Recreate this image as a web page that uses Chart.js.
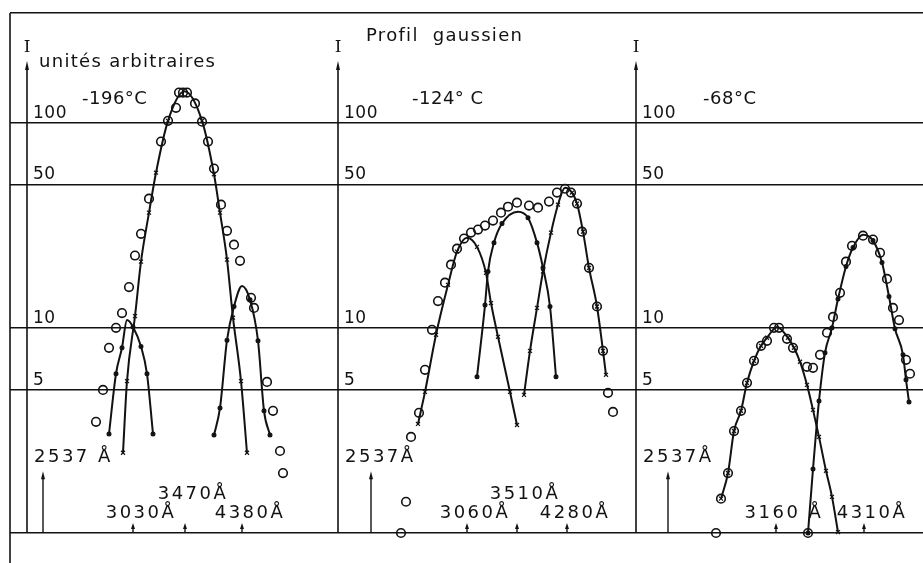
<!DOCTYPE html>
<html lang="fr">
<head>
<meta charset="utf-8">
<title>Profil gaussien</title>
<script src="https://cdn.jsdelivr.net/npm/chart.js@4/dist/chart.umd.min.js"></script>
<style>
  html, body { margin: 0; padding: 0; background: #fff; }
  #wrap { width: 923px; height: 563px; }
</style>
</head>
<body>
<div id="wrap"><canvas id="profil" width="923" height="563"></canvas></div>
<script>
/* Profil gaussien : trois spectres (I en unités arbitraires, échelle log)
   L'axe horizontal n'a pas de graduation : positions en unités arbitraires. */

// --- axes ---
const gridValues = [1, 5, 10, 50, 100];
const tickLabels = [100, 50, 10, 5];
const yMax = 342;
const panelAxisX = [27, 338, 636];
const panelTemps = ['-196°C', '-124° C', '-68°C'];

// --- -196°C : points mesurés (cercles) ---
const obs196X = [96, 103, 109, 116, 122, 129, 135, 141, 149, 161, 168, 176, 179, 183, 187, 195, 202, 208, 214, 221, 227, 234, 240, 251, 254, 267, 273, 280, 283];
const obs196I = [3.48, 4.98, 7.99, 10.0, 11.8, 15.8, 22.5, 28.7, 42.6, 80.8, 102, 118, 140, 140, 140, 124, 101, 80.8, 59.7, 39.8, 29.7, 25.4, 21.2, 14.0, 12.5, 5.45, 3.94, 2.51, 1.96];
// composantes gaussiennes
const g3030X = [109, 116, 122, 127, 133, 141, 147, 153];
const g3030I = [3.04, 5.97, 8.0, 10.9, 10.1, 8.1, 5.97, 3.04];
const g3470X = [123, 127, 135, 141, 149, 156, 168, 184.5, 202, 214, 220, 227, 233, 241, 247];
const g3470I = [2.46, 5.5, 11.4, 21, 36.4, 57, 102, 142, 102, 56, 36.4, 21.5, 11.2, 5.5, 2.46];
const g4380X = [214, 220, 227, 234, 242, 250, 258, 264, 270];
const g4380I = [3.0, 4.07, 8.7, 12.7, 16.0, 13.7, 8.65, 3.94, 3.0];

// --- -124°C ---
const obs124X = [401, 406, 411, 419, 425, 432, 438, 445, 451, 457, 464, 471, 478, 485, 493, 501, 508, 517, 529, 538, 549, 557, 565, 571, 577, 582, 589, 597, 603, 608, 613];
const obs124I = [1.0, 1.42, 2.94, 3.85, 6.24, 9.78, 13.5, 16.6, 20.3, 24.3, 27.2, 29.1, 30.1, 31.5, 33.3, 36.4, 38.9, 40.7, 39.4, 38.5, 41.2, 45.6, 47.6, 45.6, 40.3, 29.4, 19.6, 12.7, 7.72, 4.82, 3.89];
const g3060X = [418, 425, 436, 448, 457, 467, 477, 486, 491, 498, 510, 517];
const g3060I = [3.40, 4.87, 9.25, 16.2, 23.5, 27.5, 24.8, 18.5, 13.2, 9.04, 4.87, 3.36];
const g3510X = [477, 485, 488, 494, 502, 518, 528, 537, 543, 550, 556];
const g3510I = [5.77, 12.9, 18.8, 26.0, 32.2, 36.8, 34.4, 26.0, 19.6, 12.7, 5.77];
const g4280X = [524, 530, 537, 543, 551, 558, 565, 572, 577, 583, 589, 597, 603, 606];
const g4280I = [4.71, 7.72, 12.5, 18.8, 29.1, 39.8, 48.2, 45.6, 40.3, 29.4, 19.6, 12.7, 7.72, 5.90];

// --- -68°C ---
const obs68X = [716, 721, 728, 734, 741, 747, 754, 761, 767, 774, 779, 787, 793, 807, 813, 808, 820, 827, 833, 840, 846, 852, 863, 873, 880, 887, 893, 899, 906, 910];
const obs68I = [1.0, 1.47, 1.96, 3.14, 3.94, 5.39, 6.90, 8.17, 8.64, 10.0, 10.0, 8.84, 7.99, 6.45, 6.38, 1.0, 7.38, 9.46, 11.3, 14.8, 21.0, 25.1, 28.1, 26.9, 23.2, 17.3, 12.5, 10.9, 6.98, 5.97];
const g3160X = [721, 728, 734, 741, 747, 754, 761, 767, 777, 788, 794, 800, 807, 813, 819, 826, 832, 838];
const g3160I = [1.47, 1.96, 3.14, 3.94, 5.39, 6.90, 8.17, 8.94, 10.1, 8.94, 7.99, 6.83, 5.27, 3.98, 2.94, 2.01, 1.50, 1.01];
const g4310X = [808, 813, 819, 825, 832, 838, 846, 853, 863, 873, 882, 889, 895, 903, 906, 909];
const g4310I = [1.0, 2.05, 4.40, 7.55, 10.0, 13.8, 19.9, 24.6, 28.4, 26.6, 20.8, 14.2, 9.9, 7.38, 5.58, 4.35];

// --- repères de longueur d'onde (flèches sur la ligne de base) ---
const markLabel = ['2537 Å', '3030Å', '3470Å', '4380Å', '2537Å', '3060Å', '3510Å', '4280Å', '2537Å', '3160 Å', '4310Å'];
const markX = [43, 133, 185, 242, 371, 467, 517, 567, 668, 776, 864];
const markPanel = [0, 0, 0, 0, 1, 1, 1, 1, 2, 2, 2];
const refLineI = 2.0; // hauteur de la raie excitatrice 2537 Å

const ink = '#121212';

function pts(xs, is) {
  return xs.map((x, i) => ({ x, y: is[i] }));
}

function observed(xs, is) {
  return {
    data: pts(xs, is),
    showLine: false,
    pointStyle: 'circle',
    pointRadius: 4.3,
    pointBorderWidth: 1.6,
    pointBorderColor: ink,
    pointBackgroundColor: 'rgba(0,0,0,0)',
    clip: false
  };
}

function gauss(xs, is, style) {
  const peak = Math.max(...is);
  return {
    data: pts(xs, is),
    showLine: true,
    borderColor: ink,
    borderWidth: 2,
    cubicInterpolationMode: 'monotone',
    pointStyle: style,
    pointRadius: (c) => (c.raw && c.raw.y === peak ? 0 : (style === 'crossRot' ? 2.8 : 1.9)),
    pointBorderWidth: 1.2,
    pointBorderColor: ink,
    pointBackgroundColor: ink,
    clip: false
  };
}

function line(ctx, x1, y1, x2, y2) {
  ctx.beginPath();
  ctx.moveTo(x1, y1);
  ctx.lineTo(x2, y2);
  ctx.stroke();
}

function arrowHead(ctx, x, tipY, w, h) {
  ctx.beginPath();
  ctx.moveTo(x, tipY);
  ctx.lineTo(x - w / 2, tipY + h);
  ctx.lineTo(x + w / 2, tipY + h);
  ctx.closePath();
  ctx.fill();
}

const decor = {
  id: 'decor',
  afterDraw(chart) {
    const { ctx, chartArea, scales: { x, y } } = chart;
    const base = y.getPixelForValue(1);
    ctx.save();
    ctx.strokeStyle = ink;
    ctx.fillStyle = ink;
    ctx.lineWidth = 1.6;

    // cadre gauche
    line(ctx, chartArea.left, chartArea.top, chartArea.left, chart.height);

    panelAxisX.forEach((ax, p) => {
      const px = x.getPixelForValue(ax);
      ctx.lineWidth = 1.6;
      line(ctx, px, base, px, 68);
      arrowHead(ctx, px, 61, 4, 9);

      ctx.letterSpacing = '0px';
      ctx.textAlign = 'center';
      ctx.textBaseline = 'alphabetic';
      ctx.font = '17px "DejaVu Serif"';
      ctx.fillText('I', px, 52);

      ctx.textAlign = 'left';
      ctx.font = '17px "DejaVu Sans"';
      ctx.letterSpacing = '0.5px';
      tickLabels.forEach(v => {
        ctx.fillText(String(v), px + 6, y.getPixelForValue(v) - 5);
      });

      ctx.font = '18px "DejaVu Sans"';
      ctx.letterSpacing = '0.5px';
      const tempOffset = [55, 74, 67][p];
      ctx.fillText(panelTemps[p], px + tempOffset, 104);
    });

    ctx.font = '18px "DejaVu Sans"';
    ctx.letterSpacing = '1.3px';
    ctx.textAlign = 'left';
    ctx.fillText('unités arbitraires', x.getPixelForValue(panelAxisX[0]) + 12, 67);
    ctx.fillText('Profil  gaussien', x.getPixelForValue(panelAxisX[1]) + 28, 41);

    // flèches et étiquettes des longueurs d'onde
    ctx.font = '18px "DejaVu Sans"';
    ctx.letterSpacing = '2.5px';
    ctx.textBaseline = 'middle';
    panelAxisX.forEach((ax, p) => {
      const idx = markPanel.map((q, i) => (q === p ? i : -1)).filter(i => i >= 0);
      const small = idx.slice(1);
      idx.forEach((i, k) => {
        const px = x.getPixelForValue(markX[i]);
        ctx.lineWidth = 1.4;
        if (k === 0) {
          const tip = y.getPixelForValue(refLineI);
          line(ctx, px, base, px, tip + 6);
          arrowHead(ctx, px, tip, 4, 8);
          ctx.textAlign = 'left';
          ctx.fillText(markLabel[i], x.getPixelForValue(ax) + 7, 457);
        } else {
          line(ctx, px, base, px, base - 5);
          arrowHead(ctx, px, base - 10, 4, 6);
          const upper = small.length === 3 && small.indexOf(i) === 1;
          ctx.textAlign = 'center';
          ctx.fillText(markLabel[i], px + 8, upper ? 494 : 513);
        }
      });
    });
    ctx.restore();
  }
};

document.addEventListener('DOMContentLoaded', () => {
  if (typeof Chart === 'undefined') {
    console.warn('Chart.js indisponible');
    return;
  }
  new Chart(document.getElementById('profil'), {
    type: 'scatter',
    data: {
      datasets: [
        observed(obs196X, obs196I),
        gauss(g3030X, g3030I, 'circle'),
        gauss(g3470X, g3470I, 'crossRot'),
        gauss(g4380X, g4380I, 'circle'),
        observed(obs124X, obs124I),
        gauss(g3060X, g3060I, 'crossRot'),
        gauss(g3510X, g3510I, 'circle'),
        gauss(g4280X, g4280I, 'crossRot'),
        observed(obs68X, obs68I),
        gauss(g3160X, g3160I, 'crossRot'),
        gauss(g4310X, g4310I, 'circle')
      ]
    },
    options: {
      responsive: false,
      animation: false,
      events: [],
      layout: { autoPadding: false, padding: { top: 13, left: 10, right: 0, bottom: 30 } },
      plugins: { legend: { display: false }, tooltip: { enabled: false } },
      scales: {
        x: { type: 'linear', min: 10, max: 923, display: false },
        y: {
          type: 'logarithmic',
          min: 1,
          max: yMax,
          afterBuildTicks: (s) => { s.ticks = gridValues.concat([yMax]).map(v => ({ value: v })); },
          afterFit: (s) => { s.width = 0; },
          ticks: { display: false },
          grid: { color: ink, lineWidth: 1.6, drawTicks: false },
          border: { display: false }
        }
      }
    },
    plugins: [decor]
  });
});
</script>
</body>
</html>
